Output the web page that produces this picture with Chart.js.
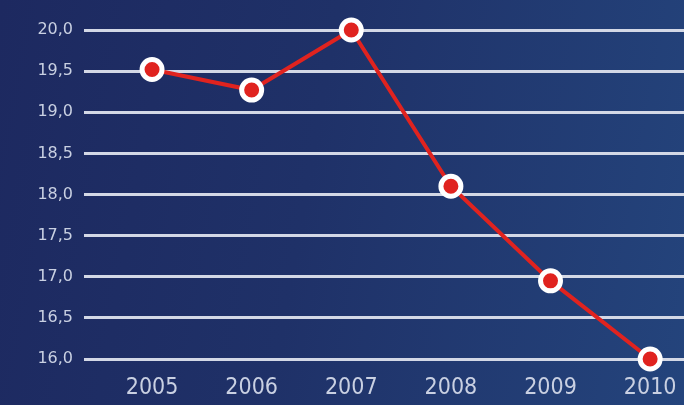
<!DOCTYPE html>
<html>
<head>
<meta charset="utf-8">
<script src="https://cdn.jsdelivr.net/npm/chart.js@4.4.1/dist/chart.umd.min.js"></script>
<style>
  html, body { margin: 0; padding: 0; overflow: hidden; }
  body {
    width: 684px; height: 405px;
    background: linear-gradient(100deg, #1d2960 0%, #1f3168 45%, #24447c 100%);
  }
  canvas { display: block; }
</style>
</head>
<body>
<canvas id="lineChart" width="684" height="405"></canvas>
<script>
const years = [2005, 2006, 2007, 2008, 2009, 2010];
const values = [19.52, 19.27, 20.0, 18.1, 16.95, 16.0];
const yTicks = [16.0, 16.5, 17.0, 17.5, 18.0, 18.5, 19.0, 19.5, 20.0];

const points = years.map((y, i) => ({ x: y, y: values[i] }));

const ctx = document.getElementById('lineChart').getContext('2d');
new Chart(ctx, {
    type: 'line',
    data: {
        datasets: [{
            data: points,
            borderColor: '#e0231f',
            borderWidth: 4,
            pointBackgroundColor: '#e0231f',
            pointBorderColor: '#ffffff',
            pointBorderWidth: 5,
            pointRadius: 10,
            pointHoverRadius: 10,
            tension: 0,
            clip: false
        }]
    },
    options: {
        responsive: false,
        animation: false,
        layout: {
            autoPadding: false,
            padding: { left: 0, top: 30, right: 0, bottom: 0 }
        },
        plugins: {
            legend: { display: false },
            tooltip: { enabled: false }
        },
        scales: {
            x: {
                type: 'linear',
                min: 2004.317,
                max: 2010.34,
                afterBuildTicks: scale => {
                    scale.ticks = years.map(v => ({ value: v }));
                },
                afterFit: scale => {
                    scale.height = 46;
                    scale.paddingLeft = 0;
                    scale.paddingRight = 0;
                },
                grid: { display: false, drawTicks: false },
                border: { display: false },
                ticks: {
                    color: '#c9d0e2',
                    font: { family: 'DejaVu Sans Condensed', size: 23 },
                    padding: 15,
                    callback: v => String(v)
                }
            },
            y: {
                min: 16,
                max: 20,
                afterBuildTicks: scale => {
                    scale.ticks = yTicks.map(v => ({ value: v }));
                },
                afterFit: scale => {
                    scale.width = 84;
                },
                grid: {
                    color: '#d3d8e6',
                    lineWidth: 3,
                    drawTicks: false
                },
                border: { display: false },
                ticks: {
                    color: '#c9d0e2',
                    font: { family: 'DejaVu Sans', size: 16 },
                    padding: 11,
                    callback: v => v.toFixed(1).replace('.', ',')
                }
            }
        }
    }
});
</script>
</body>
</html>
